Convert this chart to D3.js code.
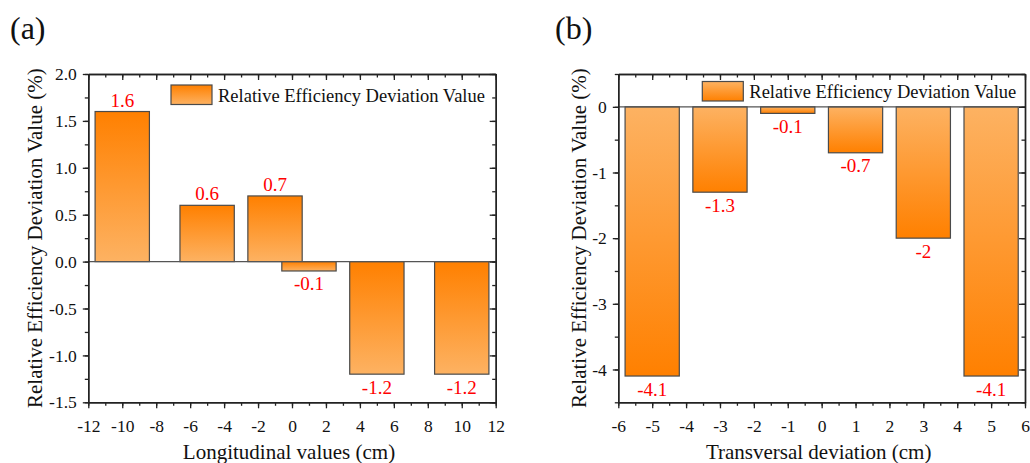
<!DOCTYPE html>
<html>
<head>
<meta charset="utf-8">
<script src="https://cdn.jsdelivr.net/npm/d3@7"></script>
<style>
  html, body { margin: 0; padding: 0; background: #fff; }
  svg { display: block; }
</style>
</head>
<body>
<svg id="chart" width="1030" height="463"></svg>
<script>
// Panel (a): longitudinal offsets
const longPositions = [-10, -5, -1, 1, 5, 10];
const longValues = [1.6, 0.6, 0.7, -0.1, -1.2, -1.2];
const longXTicks = [-12, -10, -8, -6, -4, -2, 0, 2, 4, 6, 8, 10, 12];
const longYTicks = [2.0, 1.5, 1.0, 0.5, 0.0, -0.5, -1.0, -1.5];

// Panel (b): transversal offsets
const transPositions = [-5, -3, -1, 1, 3, 5];
const transValues = [-4.1, -1.3, -0.1, -0.7, -2, -4.1];
const transXTicks = [-6, -5, -4, -3, -2, -1, 0, 1, 2, 3, 4, 5, 6];
const transYTicks = [0, -1, -2, -3, -4];

const seriesName = "Relative Efficiency Deviation Value";
const yTitle = "Relative Efficiency Deviation Value (%)";

const FONT = "'Liberation Serif', Tinos, 'Times New Roman', Times, serif";

const svg = d3.select("#chart").attr("font-family", FONT);
const defs = svg.append("defs");

const DARK = "#ff8000", LIGHT = "#fdb262";
function gradient(id, top, bottom) {
  const g = defs.append("linearGradient").attr("id", id)
    .attr("x1", 0).attr("y1", 0).attr("x2", 0).attr("y2", 1);
  g.append("stop").attr("offset", "0%").attr("stop-color", top);
  g.append("stop").attr("offset", "100%").attr("stop-color", bottom);
}
gradient("gradA", DARK, LIGHT);
gradient("gradB", LIGHT, DARK);

const AXIS = "#222";

function panel(cfg) {
  const x = d3.scaleLinear().domain(cfg.xDomain).range(cfg.xRange);
  const y = d3.scaleLinear().domain(cfg.yDomain).range([402.3, 74]);
  const g = svg.append("g").attr("font-family", FONT);
  const [x0, x1] = cfg.xRange;
  const [yb, yt] = [402.3, 74];

  // bars
  g.selectAll("rect.bar").data(cfg.values).join("rect")
    .attr("class", "bar")
    .attr("x", (d, i) => x(cfg.positions[i] - cfg.barWidth / 2))
    .attr("width", (d, i) => x(cfg.positions[i] + cfg.barWidth / 2) - x(cfg.positions[i] - cfg.barWidth / 2))
    .attr("y", d => y(Math.max(0, d)))
    .attr("height", d => Math.abs(y(d) - y(0)))
    .attr("fill", `url(#${cfg.grad})`)
    .attr("stroke", "#4a4a4a")
    .attr("stroke-width", 1.2);

  // zero line
  g.append("line")
    .attr("x1", x0).attr("x2", x1)
    .attr("y1", y(0)).attr("y2", y(0))
    .attr("stroke", "#555").attr("stroke-width", 1.3);

  // value labels
  g.selectAll("text.val").data(cfg.values).join("text")
    .attr("class", "val")
    .attr("x", (d, i) => x(cfg.positions[i]))
    .attr("y", d => d >= 0 ? y(d) - 5 : y(d) + 19.5)
    .attr("text-anchor", "middle")
    .attr("font-family", FONT)
    .attr("font-size", 19)
    .attr("fill", "#ff0000")
    .text(d => String(d));

  // axes
  const styleAxis = sel => {
    sel.attr("font-family", FONT);
    sel.selectAll("path.domain").attr("stroke", AXIS).attr("stroke-width", 1.4);
    sel.selectAll(".tick line").attr("stroke", AXIS).attr("stroke-width", 1.3);
    sel.selectAll(".tick text").attr("fill", "#111").attr("font-size", 17.5)
      .attr("font-family", FONT);
  };

  const minorX = d3.range(cfg.xDomain[0], cfg.xDomain[1] + 1e-9, cfg.xMinor);
  const minorY = d3.range(cfg.yDomain[0], cfg.yDomain[1] + 1e-9, cfg.yMinor);

  // bottom
  g.append("g").attr("transform", `translate(0,${yb})`)
    .call(d3.axisBottom(x).tickValues(minorX).tickSize(3.5).tickSizeOuter(0).tickFormat(""))
    .call(styleAxis);
  g.append("g").attr("transform", `translate(0,${yb})`)
    .call(d3.axisBottom(x).tickValues(cfg.xTicks).tickSize(6).tickSizeOuter(0).tickPadding(8)
      .tickFormat(d => String(d)))
    .call(styleAxis)
    .call(s => s.selectAll(".tick text").attr("dy", "0.9em"));
  // top (ticks inward)
  g.append("g").attr("transform", `translate(0,${yt})`)
    .call(d3.axisTop(x).tickValues(minorX).tickSize(-3.5).tickSizeOuter(0).tickFormat(""))
    .call(styleAxis);
  g.append("g").attr("transform", `translate(0,${yt})`)
    .call(d3.axisTop(x).tickValues(cfg.xTicks).tickSize(-6).tickSizeOuter(0).tickFormat(""))
    .call(styleAxis);
  // left
  g.append("g").attr("transform", `translate(${x0},0)`)
    .call(d3.axisLeft(y).tickValues(minorY).tickSize(3.5).tickSizeOuter(0).tickFormat(""))
    .call(styleAxis);
  g.append("g").attr("transform", `translate(${x0},0)`)
    .call(d3.axisLeft(y).tickValues(cfg.yTicks).tickSize(5.5).tickSizeOuter(0).tickPadding(6)
      .tickFormat(cfg.yFormat))
    .call(styleAxis);
  // right (ticks inward)
  g.append("g").attr("transform", `translate(${x1},0)`)
    .call(d3.axisRight(y).tickValues(minorY).tickSize(-3.5).tickSizeOuter(0).tickFormat(""))
    .call(styleAxis);
  g.append("g").attr("transform", `translate(${x1},0)`)
    .call(d3.axisRight(y).tickValues(cfg.yTicks).tickSize(-6).tickSizeOuter(0).tickFormat(""))
    .call(styleAxis);

  // axis titles
  g.append("text")
    .attr("x", (x0 + x1) / 2 - 3).attr("y", 459)
    .attr("text-anchor", "middle").attr("font-size", 21).attr("fill", "#111")
    .attr("font-family", FONT)
    .text(cfg.xTitle);
  g.append("text")
    .attr("transform", `translate(${cfg.yTitleX},${(yt + yb) / 2}) rotate(-90)`)
    .attr("text-anchor", "middle").attr("font-size", 21).attr("fill", "#111")
    .attr("font-family", FONT)
    .text(yTitle);

  // panel tag
  g.append("text")
    .attr("x", cfg.tagX).attr("y", 39)
    .attr("font-size", 32).attr("fill", "#111")
    .attr("font-family", FONT)
    .text(cfg.tag);

  // legend
  const lg = g.append("g").attr("transform", `translate(${cfg.legendX},${cfg.legendY})`);
  lg.append("rect").attr("x", 0).attr("y", 0).attr("width", 41).attr("height", 19.5)
    .attr("fill", `url(#${cfg.grad})`).attr("stroke", "#4a4a4a").attr("stroke-width", 1.2);
  lg.append("text").attr("x", 47).attr("y", 16.5)
    .attr("font-size", 18.5).attr("fill", "#111")
    .attr("font-family", FONT)
    .text(seriesName);
}

panel({
  positions: longPositions, values: longValues, barWidth: 3.2,
  xDomain: [-12, 12], xRange: [88.3, 495.7], xTicks: longXTicks, xMinor: 1,
  yDomain: [-1.5, 2], yTicks: longYTicks, yMinor: 0.25,
  yFormat: d => d.toFixed(1),
  grad: "gradA", xTitle: "Longitudinal values (cm)", yTitleX: 41.5,
  tag: "(a)", tagX: 10, legendX: 171, legendY: 85
});

panel({
  positions: transPositions, values: transValues, barWidth: 1.6,
  xDomain: [-6, 6], xRange: [618.3, 1025], xTicks: transXTicks, xMinor: 0.5,
  yDomain: [-4.5, 0.5], yTicks: transYTicks, yMinor: 0.5,
  yFormat: d => String(d),
  grad: "gradB", xTitle: "Transversal deviation (cm)", yTitleX: 586,
  tag: "(b)", tagX: 555, legendX: 702.3, legendY: 81.5
});
</script>
</body>
</html>
